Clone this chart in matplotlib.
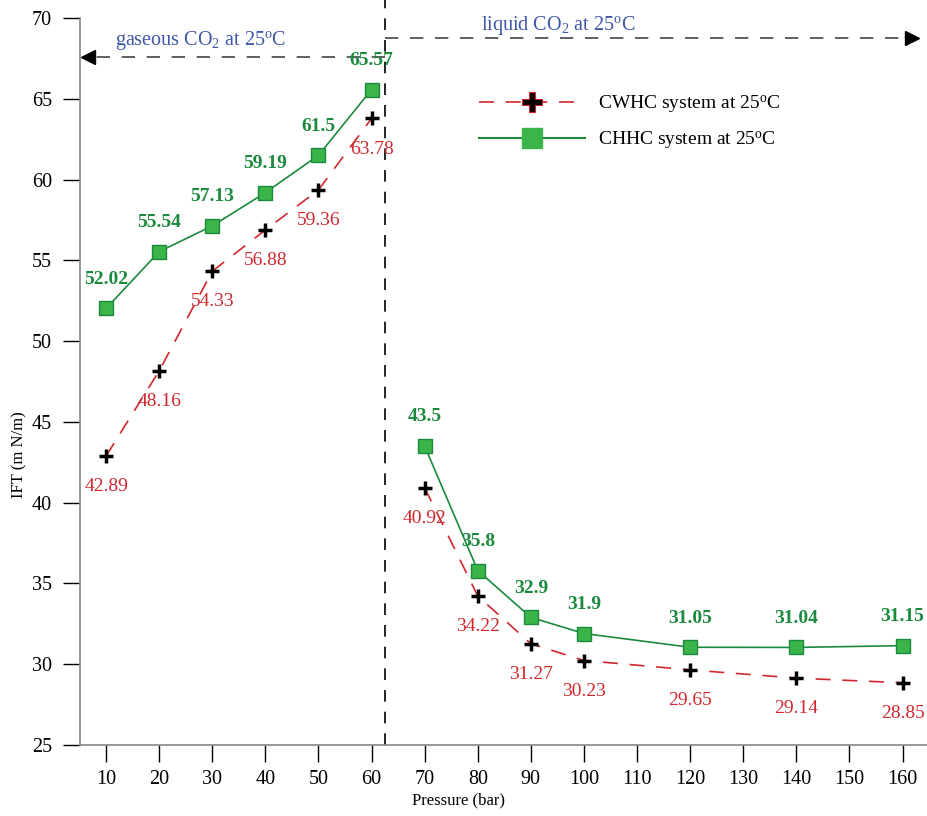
import numpy as np
import matplotlib
matplotlib.use("Agg")
import matplotlib.pyplot as plt
from matplotlib.lines import Line2D

plt.rcParams['font.family'] = ['Liberation Serif', 'DejaVu Serif']
plt.rcParams['mathtext.fontset'] = 'custom'
plt.rcParams['mathtext.rm'] = 'Liberation Serif'
plt.rcParams['mathtext.it'] = 'Liberation Serif:italic'

# data
gas_p = [10, 20, 30, 40, 50, 60]
liq_p = [70, 80, 90, 100, 120, 140, 160]
cwhc_gas = [42.89, 48.16, 54.33, 56.88, 59.36, 63.78]
cwhc_liq = [40.92, 34.22, 31.27, 30.23, 29.65, 29.14, 28.85]
chhc_gas = [52.02, 55.54, 57.13, 59.19, 61.5, 65.57]
chhc_liq = [43.5, 35.8, 32.9, 31.9, 31.05, 31.04, 31.15]
xticks = list(range(10, 170, 10))
yticks = list(range(25, 75, 5))

RED = '#d1282e'
GREEN = '#1b8a3e'
SQ_FACE = '#3bb449'
BLUE = '#3f56a6'

fig = plt.figure(figsize=(9.28, 8.16), dpi=100)
ax = fig.add_axes([80/928, 71/816, 848/928, 727/816])

for xs, ys in [(gas_p, cwhc_gas), (liq_p, cwhc_liq)]:
	ax.plot(xs, ys, color=RED, lw=1.2, dashes=(9, 7), zorder=2)
	ax.plot(xs, ys, ls='none', marker='+', ms=10.5, mew=2.5, color='black', zorder=4)
for xs, ys in [(gas_p, chhc_gas), (liq_p, chhc_liq)]:
	ax.plot(xs, ys, color=GREEN, lw=1.2, zorder=3,
			marker='s', ms=10, mfc=SQ_FACE, mec=GREEN, mew=1)

# value labels
for x, y in zip(gas_p + liq_p, chhc_gas + chhc_liq):
	ax.annotate(str(y), (x, y), xytext=(0, 21), textcoords='offset points',
				ha='center', va='center', color=GREEN, fontsize=14, fontweight='bold')
for x, y in zip(gas_p + liq_p, cwhc_gas + cwhc_liq):
	ax.annotate(str(y), (x, y), xytext=(0, -22), textcoords='offset points',
				ha='center', va='center', color=RED, fontsize=14)

# phase boundary and arrows
ax.plot([62.5, 62.5], [25, 71.2], color='black', lw=1.2, dashes=(7, 6), clip_on=False)
ax.plot([62.5, 7.0], [67.59, 67.59], color='#444444', lw=1.2, dashes=(8, 7), clip_on=False)
ax.plot([6.6], [67.59], marker='<', ms=10, color='black', clip_on=False)
ax.plot([62.5, 161.5], [68.76, 68.76], color='#444444', lw=1.2, dashes=(8, 7), clip_on=False)
ax.plot([161.8], [68.76], marker='>', ms=10, color='black', clip_on=False)
ax.text(27.7, 68.62, 'gaseous CO$_2$ at 25$^{\\rm o}$C', color=BLUE, fontsize=14.5,
		ha='center', va='center')
ax.text(95.1, 69.55, 'liquid CO$_2$ at 25$^{\\rm o}$C', color=BLUE, fontsize=14.5,
		ha='center', va='center', clip_on=False)

# legend with proxy handles
h1 = Line2D([], [], color=RED, lw=1.2, dashes=(9, 7), marker='P', ms=15,
			mfc='black', mec=RED, mew=0.8)
h2 = Line2D([], [], color=GREEN, lw=1.5, marker='s', ms=14, mfc=SQ_FACE, mec=SQ_FACE)
ax.legend([h1, h2], ['CWHC system at 25$^{\\rm o}$C', 'CHHC system at 25$^{\\rm o}$C'],
		  loc='upper left', bbox_to_anchor=(462/928, 1 - 76/816), bbox_transform=fig.transFigure,
		  frameon=False, fontsize=14, handlelength=5.4, labelspacing=0.75, handletextpad=0.7)

ax.set_xlim(5.08, 164.8)
ax.set_ylim(25, 70)
ax.set_xticks(xticks)
ax.set_yticks(yticks)
ax.tick_params(axis='both', direction='out', length=12, width=1, labelsize=14.5, color='black')
ax.tick_params(axis='x', pad=6)
ax.tick_params(axis='y', pad=8)
for s in ['top', 'right']:
	ax.spines[s].set_visible(False)
for s in ['left', 'bottom']:
	ax.spines[s].set_color('#888888')
	ax.spines[s].set_linewidth(1.2)

ax.set_xlabel('Pressure (bar)', fontsize=12)
ax.set_ylabel('IFT (m N/m)', fontsize=12)
ax.xaxis.set_label_coords(0.446, -0.065)
ax.yaxis.set_label_coords(-0.062, 0.40)

fig.savefig('out.png', dpi=100)
